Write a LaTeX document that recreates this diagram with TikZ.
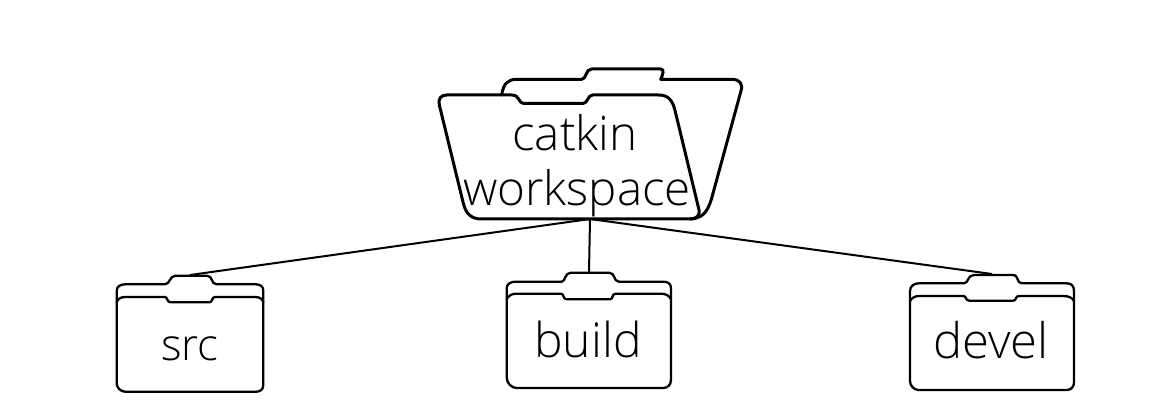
\documentclass[tikz,border=0pt]{standalone}
\usepackage{fontspec}
\newfontfamily\lightfont{Open Sans Light}
\tikzset{
  outline/.style={draw=black,line width=2.3pt,line join=round,line cap=round},
  bigoutline/.style={outline,line width=3pt},
  link/.style={draw=black,line width=2pt},
  label/.style={anchor=base,inner sep=0pt,text=black},
  zoomed/.style={x=0.3333pt,y=-0.3333pt}
}
\begin{document}
\begin{tikzpicture}[x=1pt,y=-1pt]
\useasboundingbox (0,0) rectangle (1149,412);
% catkin workspace folder
\begin{scope}[shift={(420,55)},zoomed]
\draw[bigoutline] (245,120) .. controls (250,88) and (262,73) .. (290,73) -- (485,73) .. controls (500,73) and (496,42) .. (515,42) -- (722,42) .. controls (735,42) and (728,60) .. (722,73) -- (935,73) .. controls (958,73) and (970,85) .. (963,108) -- (875,430) .. controls (862,475) and (845,490) .. (810,492);
\draw[bigoutline] (245,120) -- (80,120) .. controls (62,120) and (54,132) .. (58,150) -- (130,445) .. controls (138,478) and (155,492) .. (185,492) -- (810,492) .. controls (832,492) and (842,480) .. (836,460) -- (766,170) .. controls (758,135) and (745,120) .. (715,120) -- (518,120) .. controls (503,120) and (503,145) .. (490,145) -- (310,145) .. controls (295,145) and (300,120) .. (275,120) -- (245,120);
\end{scope}
% src folder
\begin{scope}[shift={(100,265)},zoomed]
\draw[outline] (50,105) -- (50,78) .. controls (50,65) and (60,58) .. (75,58) -- (195,58) .. controls (210,58) and (208,32) .. (228,32) -- (320,32) .. controls (340,32) and (332,58) .. (350,58) -- (468,58) .. controls (482,58) and (490,65) .. (490,78) -- (490,360) .. controls (490,372) and (482,380) .. (470,380) -- (75,380) .. controls (62,380) and (50,368) .. (50,355) -- cycle;
\draw[outline] (50,112) .. controls (54,102) and (62,96) .. (75,96) -- (195,96) .. controls (203,96) and (200,112) .. (212,112) -- (328,112) .. controls (338,112) and (335,96) .. (345,96) -- (465,96) .. controls (480,96) and (487,102) .. (490,112);
\end{scope}
% build folder
\begin{scope}[shift={(495,260)},zoomed]
\draw[outline] (35,105) -- (35,85) .. controls (35,72) and (47,65) .. (62,65) -- (200,65) .. controls (212,65) and (208,38) .. (228,38) -- (342,38) .. controls (362,38) and (354,65) .. (372,65) -- (505,65) .. controls (520,65) and (528,72) .. (528,85) -- (528,360) .. controls (528,374) and (518,384) .. (505,384) -- (65,384) .. controls (50,384) and (35,370) .. (35,352) -- cycle;
\draw[outline] (35,118) .. controls (40,107) and (50,101) .. (65,101) -- (198,101) .. controls (208,101) and (203,118) .. (215,118) -- (345,118) .. controls (355,118) and (350,101) .. (362,101) -- (497,101) .. controls (512,101) and (524,107) .. (528,118);
\end{scope}
% devel folder
\begin{scope}[shift={(900,265)},zoomed]
\draw[outline] (30,100) -- (30,78) .. controls (30,63) and (42,55) .. (57,55) -- (192,55) .. controls (206,55) and (202,30) .. (222,30) -- (338,30) .. controls (358,30) and (348,55) .. (366,55) -- (500,55) .. controls (515,55) and (522,63) .. (522,78) -- (522,352) .. controls (522,365) and (514,375) .. (500,375) -- (55,375) .. controls (42,375) and (30,362) .. (30,348) -- cycle;
\draw[outline] (30,108) .. controls (36,98) and (45,93) .. (58,93) -- (190,93) .. controls (200,93) and (195,107) .. (208,107) -- (340,107) .. controls (350,107) and (345,93) .. (357,93) -- (490,93) .. controls (505,93) and (517,98) .. (522,108);
\end{scope}
% labels
\node[label,font=\lightfont\fontsize{47.5}{47.5}\selectfont] (catkin) at (575,150) {catkin};
\node[label,font=\lightfont\fontsize{47.5}{47.5}\selectfont] (workspace) at (577,205) {workspace};
\node[label,font=\lightfont\fontsize{44}{44}\selectfont] (src) at (190,360) {src};
\node[label,font=\lightfont\fontsize{48}{48}\selectfont] (build) at (588,357) {build};
\node[label,font=\lightfont\fontsize{49}{49}\selectfont] (devel) at (991,358) {devel};
% connectors
\coordinate (hub) at (590,219);
\coordinate (srctop) at (190,275);
\coordinate (buildtop) at (589,272);
\coordinate (develtop) at (992,274);
\draw[link] (hub) -- (srctop);
\draw[link] (hub) -- (buildtop);
\draw[link] (hub) -- (develtop);
\end{tikzpicture}
\end{document}
